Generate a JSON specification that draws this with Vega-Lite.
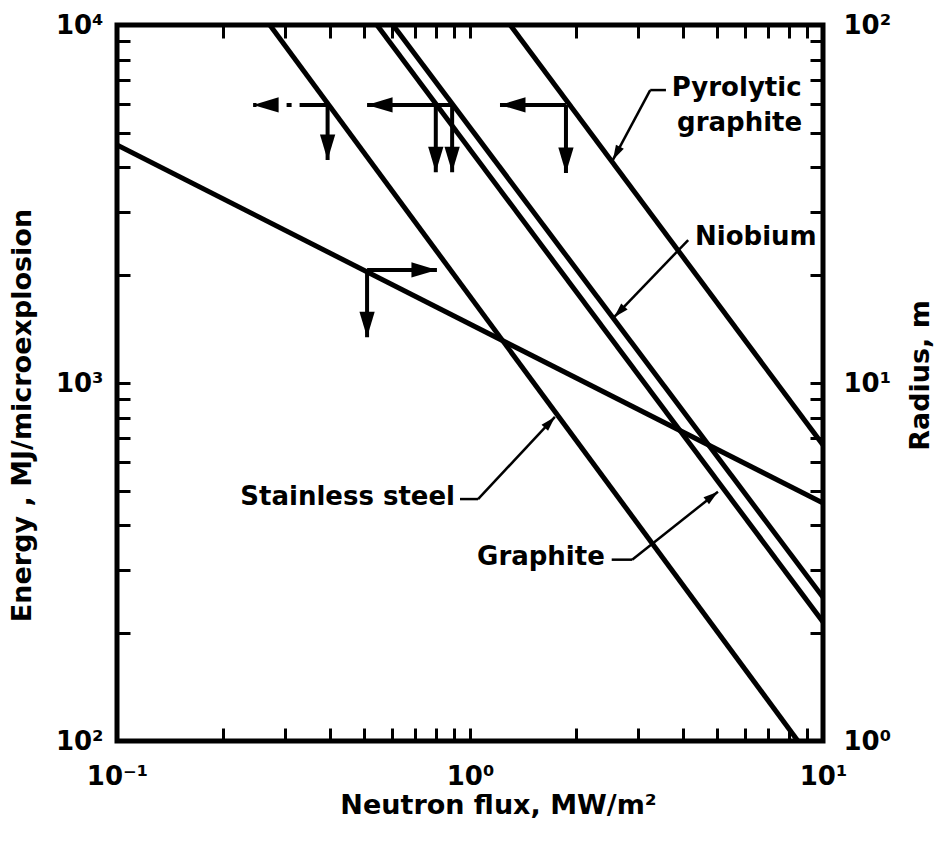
{
  "$schema": "https://vega.github.io/schema/vega-lite/v6.json",
  "width": 706,
  "height": 716,
  "autosize": "none",
  "padding": {"left": 117, "top": 25, "right": 118, "bottom": 103},
  "config": {
    "view": {"stroke": "black", "strokeWidth": 5},
    "font": "DejaVu Sans",
    "axis": {
      "grid": false, "domain": false, "ticks": true, "tickSize": -13, "tickWidth": 3, "tickColor": "black",
      "labelFont": "DejaVu Sans", "labelFontWeight": "bold", "labelFontSize": 26, "labelColor": "black",
      "titleFont": "DejaVu Sans", "titleFontWeight": "bold", "titleFontSize": 27, "titleColor": "black",
      "labelFlush": false, "labelOverlap": false, "labelBound": false
    }
  },
  "datasets": {
    "lines": [
      {"series": "Stainless steel", "flux": 0.271, "energy": 10000},
      {"series": "Stainless steel", "flux": 8.49, "energy": 100},
      {"series": "Graphite", "flux": 0.545, "energy": 10000},
      {"series": "Graphite", "flux": 10, "energy": 215},
      {"series": "Niobium", "flux": 0.605, "energy": 10000},
      {"series": "Niobium", "flux": 10, "energy": 252},
      {"series": "Pyrolytic graphite", "flux": 1.30, "energy": 10000},
      {"series": "Pyrolytic graphite", "flux": 10, "energy": 671},
      {"series": "Radius", "flux": 0.1, "energy": 4620},
      {"series": "Radius", "flux": 10, "energy": 462}
    ],
    "arrows": [
      {"flux": 0.395, "energy": 5980, "flux2": 0.243, "energy2": 5980, "dashed": true},
      {"flux": 0.395, "energy": 5980, "flux2": 0.395, "energy2": 4200, "dashed": false},
      {"flux": 0.89, "energy": 5980, "flux2": 0.511, "energy2": 5980, "dashed": false},
      {"flux": 0.80, "energy": 5980, "flux2": 0.80, "energy2": 3880, "dashed": false},
      {"flux": 0.89, "energy": 5980, "flux2": 0.89, "energy2": 3880, "dashed": false},
      {"flux": 1.87, "energy": 5980, "flux2": 1.216, "energy2": 5980, "dashed": false},
      {"flux": 1.87, "energy": 5980, "flux2": 1.87, "energy2": 3860, "dashed": false},
      {"flux": 0.511, "energy": 2070, "flux2": 0.806, "energy2": 2070, "dashed": false},
      {"flux": 0.511, "energy": 2070, "flux2": 0.511, "energy2": 1343, "dashed": false}
    ],
    "heads": [
      {"flux": 0.243, "energy": 5980, "dir": 270, "kind": "big"},
      {"flux": 0.395, "energy": 4200, "dir": 180, "kind": "big"},
      {"flux": 0.511, "energy": 5980, "dir": 270, "kind": "big"},
      {"flux": 0.80, "energy": 3880, "dir": 180, "kind": "big"},
      {"flux": 0.89, "energy": 3880, "dir": 180, "kind": "big"},
      {"flux": 1.216, "energy": 5980, "dir": 270, "kind": "big"},
      {"flux": 1.87, "energy": 3860, "dir": 180, "kind": "big"},
      {"flux": 0.806, "energy": 2070, "dir": 90, "kind": "big"},
      {"flux": 0.511, "energy": 1343, "dir": 180, "kind": "big"},
      {"flux": 2.54, "energy": 4200, "dir": 208, "kind": "small"},
      {"flux": 2.56, "energy": 1527, "dir": 224, "kind": "small"},
      {"flux": 1.74, "energy": 804, "dir": 43, "kind": "small"},
      {"flux": 5.04, "energy": 497, "dir": 52, "kind": "small"}
    ],
    "leaders": [
      {"flux": 3.59, "energy": 6580, "flux2": 3.24, "energy2": 6580},
      {"flux": 3.24, "energy": 6580, "flux2": 2.54, "energy2": 4200},
      {"flux": 4.15, "energy": 2508, "flux2": 2.56, "energy2": 1527},
      {"flux": 0.937, "energy": 474, "flux2": 1.054, "energy2": 474},
      {"flux": 1.054, "energy": 474, "flux2": 1.74, "energy2": 804},
      {"flux": 2.52, "energy": 321, "flux2": 2.88, "energy2": 321},
      {"flux": 2.88, "energy": 321, "flux2": 5.04, "energy2": 497}
    ],
    "labels": [
      {"text": "Pyrolytic", "flux": 3.73, "energy": 6670, "side": "left"},
      {"text": "graphite", "flux": 3.86, "energy": 5320, "side": "left"},
      {"text": "Niobium", "flux": 4.34, "energy": 2560, "side": "left"},
      {"text": "Stainless steel", "flux": 0.907, "energy": 481, "side": "right"},
      {"text": "Graphite", "flux": 2.41, "energy": 327, "side": "right"}
    ],
    "radius": [
      {"flux": 0.1, "radius": 1},
      {"flux": 10, "radius": 100}
    ]
  },
  "resolve": {"scale": {"y": "independent"}, "axis": {"x": "independent", "y": "independent"}},
  "layer": [
    {
      "encoding": {
        "x": {
          "field": "flux", "type": "quantitative",
          "scale": {"type": "log", "domain": [0.1, 10], "nice": false},
          "axis": {
            "orient": "bottom",
            "values": [0.1, 0.2, 0.3, 0.4, 0.5, 0.6, 0.7, 0.8, 0.9, 1, 2, 3, 4, 5, 6, 7, 8, 9, 10],
            "labelExpr": "datum.value == 0.1 ? '10⁻¹' : datum.value == 1 ? '10⁰' : datum.value == 10 ? '10¹' : ''",
            "labelPadding": 35, "labelBaseline": "top",
            "title": "Neutron flux, MW/m²",
            "titleX": 381, "titleY": 72, "titleAlign": "center", "titleBaseline": "alphabetic"
          }
        },
        "y": {
          "field": "energy", "type": "quantitative",
          "scale": {"type": "log", "domain": [100, 10000], "nice": false},
          "axis": {
            "orient": "left",
            "values": [100, 200, 300, 400, 500, 600, 700, 800, 900, 1000, 2000, 3000, 4000, 5000, 6000, 7000, 8000, 9000, 10000],
            "labelExpr": "datum.value == 100 ? '10²' : datum.value == 1000 ? '10³' : datum.value == 10000 ? '10⁴' : ''",
            "labelPadding": 27,
            "title": "Energy , MJ/microexplosion",
            "titleX": -95, "titleY": 390, "titleAngle": 270, "titleAlign": "center", "titleBaseline": "middle"
          }
        }
      },
      "layer": [
        {
          "data": {"name": "lines"},
          "mark": {"type": "line", "strokeWidth": 5, "color": "black", "clip": true},
          "encoding": {"detail": {"field": "series", "type": "nominal"}}
        },
        {
          "data": {"name": "arrows"},
          "mark": {"type": "rule", "strokeWidth": 4, "color": "black"},
          "encoding": {
            "x2": {"field": "flux2"},
            "y2": {"field": "energy2"},
            "strokeDash": {"condition": {"test": "datum.dashed", "value": [28, 8, 5, 30]}, "value": [1, 0]}
          }
        },
        {
          "data": {"name": "leaders"},
          "mark": {"type": "rule", "strokeWidth": 2.5, "color": "black"},
          "encoding": {
            "x2": {"field": "flux2"},
            "y2": {"field": "energy2"}
          }
        },
        {
          "data": {"name": "heads"},
          "mark": {"type": "point", "filled": true, "color": "black", "opacity": 1, "shape": "M0,0L0.6,2L-0.6,2Z", "strokeWidth": 0},
          "encoding": {
            "angle": {"field": "dir", "type": "quantitative", "scale": null},
            "size": {"condition": {"test": "datum.kind === 'big'", "value": 650}, "value": 220}
          }
        },
        {
          "data": {"name": "labels"},
          "transform": [{"filter": "datum.side === 'left'"}],
          "mark": {"type": "text", "align": "left", "baseline": "middle", "font": "DejaVu Sans", "fontWeight": "bold", "fontSize": 26, "color": "black"},
          "encoding": {"text": {"field": "text"}}
        },
        {
          "data": {"name": "labels"},
          "transform": [{"filter": "datum.side === 'right'"}],
          "mark": {"type": "text", "align": "right", "baseline": "middle", "font": "DejaVu Sans", "fontWeight": "bold", "fontSize": 26, "color": "black"},
          "encoding": {"text": {"field": "text"}}
        }
      ]
    },
    {
      "data": {"name": "radius"},
      "mark": {"type": "point", "opacity": 0},
      "encoding": {
        "x": {
          "field": "flux", "type": "quantitative",
          "scale": {"type": "log", "domain": [0.1, 10], "nice": false},
          "axis": {
            "orient": "top",
            "values": [0.1, 0.2, 0.3, 0.4, 0.5, 0.6, 0.7, 0.8, 0.9, 1, 2, 3, 4, 5, 6, 7, 8, 9, 10],
            "labels": false, "title": null
          }
        },
        "y": {
          "field": "radius", "type": "quantitative",
          "scale": {"type": "log", "domain": [1, 100], "nice": false},
          "axis": {
            "orient": "right",
            "values": [1, 2, 3, 4, 5, 6, 7, 8, 9, 10, 20, 30, 40, 50, 60, 70, 80, 90, 100],
            "labelExpr": "datum.value == 1 ? '10⁰' : datum.value == 10 ? '10¹' : datum.value == 100 ? '10²' : ''",
            "labelPadding": 33,
            "title": "Radius, m",
            "titleX": 97, "titleY": 350, "titleAngle": 270, "titleAlign": "center", "titleBaseline": "middle"
          }
        }
      }
    }
  ]
}
